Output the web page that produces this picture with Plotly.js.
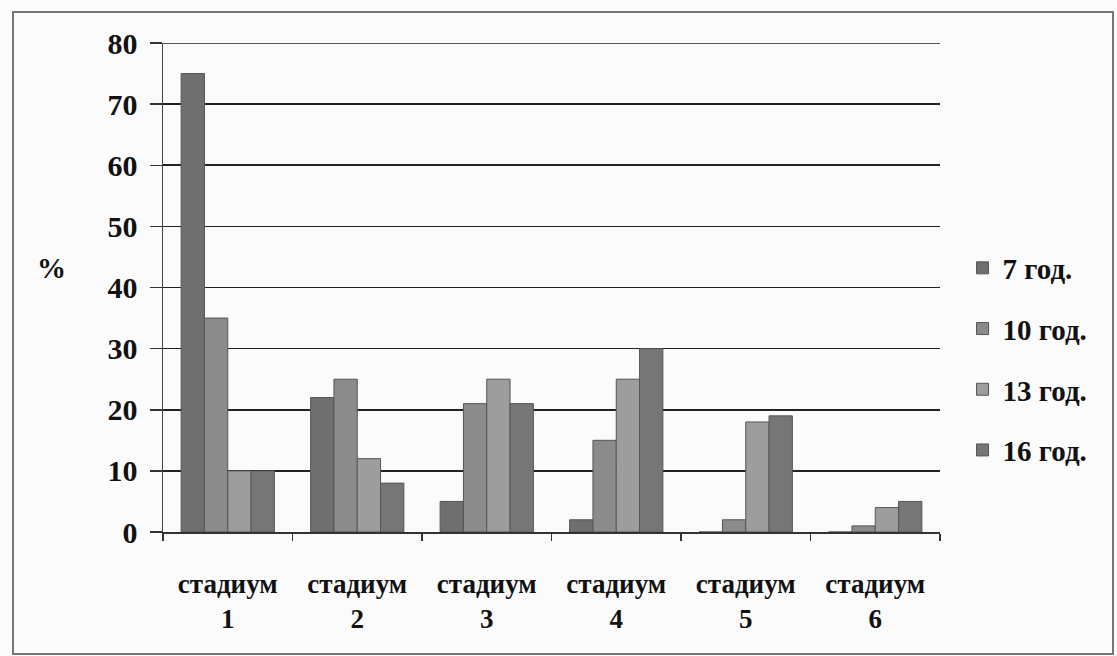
<!DOCTYPE html>
<html>
<head>
<meta charset="utf-8">
<script src="https://cdn.plot.ly/plotly-3.0.1.min.js"></script>
<style>html,body{margin:0;padding:0;background:#fbfbfb;}</style>
</head>
<body>
<div id="chart" style="width:1117px;height:656px;"></div>
<script>
const categories = ["стадиум<br>1", "стадиум<br>2", "стадиум<br>3", "стадиум<br>4", "стадиум<br>5", "стадиум<br>6"];
const seriesNames = ["7 год.", "10 год.", "13 год.", "16 год."];
const age7  = [75, 22, 5, 2, 0, 0];
const age10 = [35, 25, 21, 15, 2, 1];
const age13 = [10, 12, 25, 25, 18, 4];
const age16 = [10, 8, 21, 30, 19, 5];
const yTicks = [0, 10, 20, 30, 40, 50, 60, 70, 80];

const colors = ["#6f6f6f", "#8b8b8b", "#9d9d9d", "#767676"];
const allSeries = [age7, age10, age13, age16];
const font = "Liberation Serif, DejaVu Serif, serif";

const traces = allSeries.map((vals, i) => ({
  type: "bar",
  name: "<b>" + seriesNames[i] + "</b>",
  x: categories,
  y: vals,
  legendgroup: "g" + i,
  marker: {color: colors[i], line: {color: "#555", width: 1}},
  hoverinfo: "x+y+name"
}));

const L = 163, R = 940, T = 43, B = 532;
const pw = R - L, ph = B - T;
const px = v => (v - L) / pw;
const py = v => (B - v) / ph;

const layout = {
  width: 1117, height: 656,
  margin: {l: L, r: 1117 - R, t: T, b: 656 - B},
  paper_bgcolor: "#fbfbfb",
  plot_bgcolor: "#fbfbfb",
  barmode: "group",
  bargap: 0.28,
  bargroupgap: 0,
  showlegend: true,
  legend: {
    x: 1.029, xanchor: "left", y: py(359), yanchor: "middle",
    font: {family: font, size: 29, color: "#111"},
    tracegroupgap: 20, traceorder: "grouped",
    bgcolor: "rgba(0,0,0,0)", itemwidth: 30
  },
  font: {family: font, color: "#111"},
  xaxis: {
    type: "category",
    showline: true, linecolor: "#333", linewidth: 1.5,
    ticks: "outside", tickson: "boundaries", ticklen: 7, tickcolor: "#333", tickwidth: 1.5,
    tickfont: {family: font, size: 27, color: "#111", weight: "bold"},
    ticklabelstandoff: 27,
    showgrid: false, zeroline: false
  },
  yaxis: {
    range: [0, 80],
    tickvals: yTicks,
    ticktext: yTicks.map(v => "<b>" + v + "</b>"),
    tickfont: {family: font, size: 30, color: "#111"},
    showline: true, linecolor: "#444", linewidth: 1.5,
    ticks: "outside", ticklen: 12, tickcolor: "#333", tickwidth: 1.5,
    ticklabelstandoff: 6,
    showgrid: true, gridcolor: "#222", gridwidth: 1.6,
    zeroline: false
  },
  annotations: [{
    text: "<b>%</b>", xref: "paper", yref: "paper",
    x: px(51), y: py(268), xanchor: "center", yanchor: "middle", showarrow: false,
    font: {family: font, size: 29, color: "#111"}
  }],
  shapes: [{
    type: "rect", xref: "paper", yref: "paper",
    x0: px(13), x1: px(1113), y0: py(654), y1: py(12),
    line: {color: "#777", width: 2}, layer: "below"
  }, {
    type: "line", xref: "paper", yref: "y",
    x0: 0, x1: 1, y0: yTicks[yTicks.length - 1], y1: yTicks[yTicks.length - 1],
    line: {color: "#222", width: 1.6}
  }]
};

Plotly.newPlot("chart", traces, layout, {displayModeBar: false, staticPlot: true});
</script>
</body>
</html>
